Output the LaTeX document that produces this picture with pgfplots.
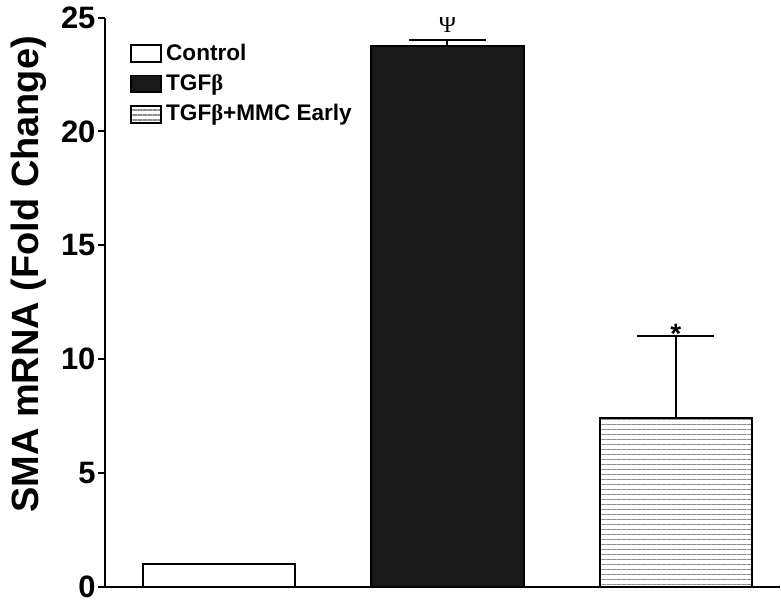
\documentclass[border=0pt]{standalone}
\usepackage{pgfplots}
\pgfplotsset{compat=1.18}
\usepackage{fontspec}
\setmainfont{Liberation Sans}
\newfontfamily\serifgr{Liberation Serif}
\usetikzlibrary{patterns.meta}
\begin{document}
\begin{tikzpicture}
\begin{axis}[
  scale only axis, width=338pt, height=285pt,
  xmin=-0.5, xmax=2.456, ymin=0, ymax=25,
  axis x line*=bottom, axis y line*=left,
  xtick=\empty, ytick={0,5,10,15,20,25},
  tick align=outside, major tick length=3.5pt,
  /pgf/number format/assume math mode=true,
  yticklabel style={font=\bfseries\fontsize{15.5}{15.5}\selectfont, inner xsep=1pt},
  ylabel={SMA mRNA (Fold Change)},
  ylabel style={font=\bfseries\fontsize{19}{20}\selectfont,
    at={(axis description cs:-0.113,0.549)}, anchor=center, inner sep=0pt},
  axis line style={line width=1pt},
  tick style={line width=1pt, black},
  ybar, bar width=0.668, bar shift=0pt,
  legend style={at={(0.037,0.961)}, anchor=north west, draw=none, fill=none,
    font=\bfseries\fontsize{11.3}{13}\selectfont, row sep=1.5pt, inner sep=0pt},
  legend cell align=left,
  legend image code/.code={\draw[#1,line width=1pt] (0pt,-4.25pt) rectangle (15pt,4.25pt);},
]
\addplot[fill=white, draw=black, line width=1pt] coordinates {(0,1.0)};
\addlegendentry{Control}
\addplot[fill=black!90, draw=black, line width=1pt,
  error bars/.cd, y dir=plus, y explicit,
  error bar style={line width=1pt, black},
  error mark options={rotate=90, mark size=19.25pt, line width=1pt, black}]
  coordinates {(1,23.75) +- (0,0.25)};
\addlegendentry{TGF{\serifgr β}}
\addplot[draw=black, line width=1pt,
  pattern={Lines[angle=0,distance=2.5pt,line width=0.7pt]}, pattern color=black!45,
  error bars/.cd, y dir=plus, y explicit,
  error bar style={line width=1pt, black},
  error mark options={rotate=90, mark size=19.25pt, line width=1pt, black}]
  coordinates {(2,7.4) +- (0,3.6)};
\addlegendentry{TGF{\serifgr β}+MMC Early}
\node[font=\serifgr\fontsize{12}{12}\selectfont, anchor=base, inner sep=0pt] at (axis cs:1,24.34) {Ψ};
\node[font=\bfseries\fontsize{14}{14}\selectfont, anchor=base, inner sep=0pt] at (axis cs:2,10.7) {*};
\end{axis}
\path ([xshift=-52.5pt]current axis.south west);
\end{tikzpicture}
\end{document}
